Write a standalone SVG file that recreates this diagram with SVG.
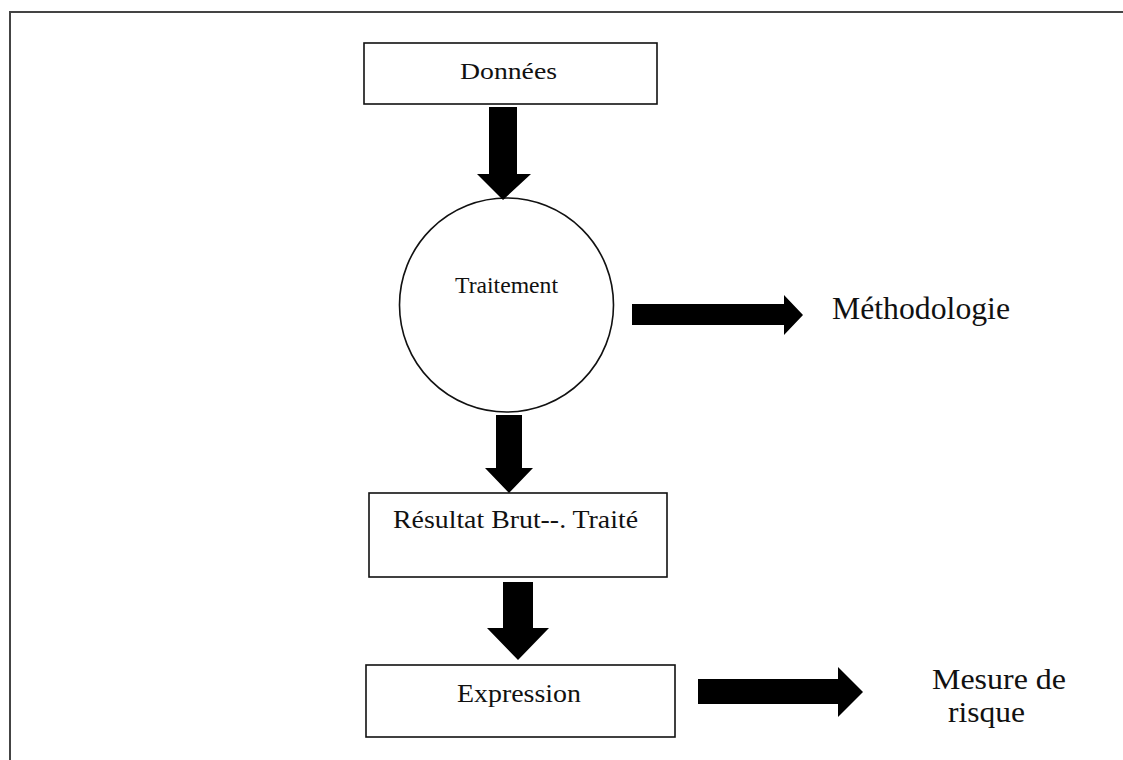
<svg xmlns="http://www.w3.org/2000/svg" width="1123" height="760" viewBox="0 0 1123 760">
<style>
.box{fill:#fff;stroke:#111;stroke-width:1.6}
.t{font-family:"Liberation Serif","Times New Roman",serif;fill:#111}
.arr{fill:#000}
</style>
<rect width="1123" height="760" fill="#fff"/>
<rect x="10" y="12" width="1140" height="780" fill="none" stroke="#444" stroke-width="2"/>
<g id="donnees">
<rect class="box" x="364" y="43" width="293" height="61"/>
<text class="t" x="460" y="79" font-size="24" textLength="97" lengthAdjust="spacingAndGlyphs">Données</text>
</g>
<g id="traitement">
<circle cx="506.5" cy="305" r="107" fill="#fff" stroke="#111" stroke-width="1.6"/>
<text class="t" x="455" y="293" font-size="23" textLength="103" lengthAdjust="spacingAndGlyphs">Traitement</text>
</g>
<g id="methodologie">
<text class="t" x="832" y="319" font-size="31" textLength="178" lengthAdjust="spacingAndGlyphs">Méthodologie</text>
</g>
<g id="resultat">
<rect class="box" x="369" y="493" width="298" height="84"/>
<text class="t" x="393" y="528" font-size="25" textLength="245" lengthAdjust="spacingAndGlyphs">Résultat Brut--. Traité</text>
</g>
<g id="expression">
<rect class="box" x="366" y="665" width="309" height="72"/>
<text class="t" x="457" y="702" font-size="25" textLength="124" lengthAdjust="spacingAndGlyphs">Expression</text>
</g>
<g id="mesure">
<text class="t" x="932" y="689" font-size="30" textLength="134" lengthAdjust="spacingAndGlyphs">Mesure de</text>
<text class="t" x="948" y="722" font-size="30" textLength="77" lengthAdjust="spacingAndGlyphs">risque</text>
</g>
<g id="connectors">
<polygon class="arr" points="489,107 517,107 517,174 531,174 503,200 477,174 489,174"/>
<polygon class="arr" points="496,415 522,415 522,468 533,468 509,493 485,468 496,468"/>
<polygon class="arr" points="503,582 533,582 533,628 549,628 518,660 487,628 503,628"/>
<polygon class="arr" points="632,304 784,304 784,295 803,315 784,335 784,325 632,325"/>
<polygon class="arr" points="698,679 838,679 838,667 863,692 838,717 838,704 698,704"/>
</g>
</svg>
